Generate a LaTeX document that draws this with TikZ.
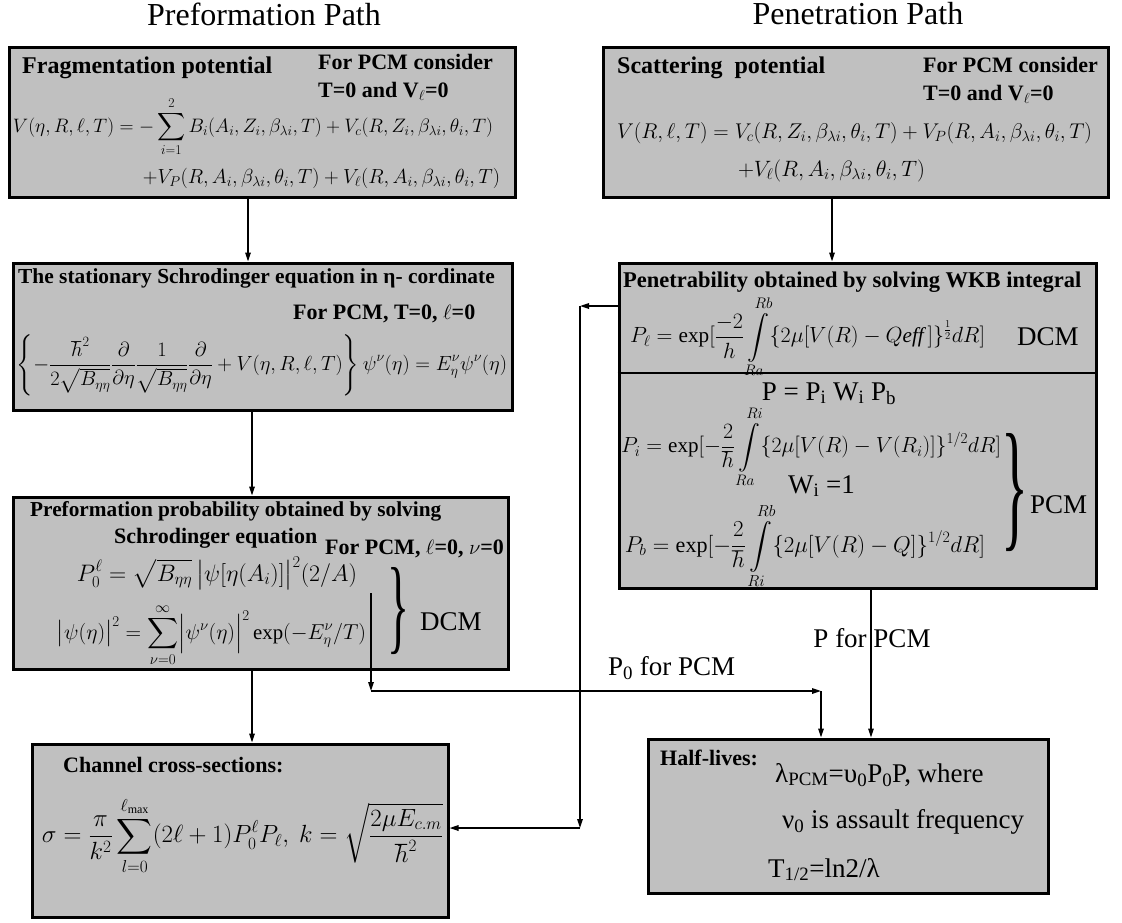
\documentclass[tikz,border=0pt]{standalone}
\usepackage{amsmath}
\usepackage{fontspec}
\setmainfont{Liberation Serif}
\usepackage{graphicx}
\usetikzlibrary{arrows.meta}
\definecolor{boxgray}{RGB}{192,192,192}
\newcommand{\fw}[2]{\resizebox{#1}{!}{$\displaystyle #2$}}
\begin{document}
\begin{tikzpicture}[x=1pt,y=-1pt,
  box/.style={draw=black, line width=3pt, fill=boxgray, inner sep=0pt},
  conn/.style={line width=1.6pt, -{Triangle[length=9pt,width=5.5pt]}},
  hdr/.style={font=\fontsize{22}{26}\selectfont\bfseries, inner sep=0pt, anchor=base west},
  ttl/.style={font=\fontsize{32}{38}\selectfont, inner sep=0pt, anchor=base},
  txt/.style={font=\fontsize{27}{32}\selectfont, inner sep=0pt, anchor=base west},
  eq/.style={font=\fontsize{24}{28}\selectfont, inner sep=0pt, anchor=center},
]
\useasboundingbox (0,0) rectangle (1122,922);

% boxes
\node[box, minimum width=506pt, minimum height=150pt] (b1) at (262,122) {};
\node[box, minimum width=505pt, minimum height=150pt] (b2) at (855.5,122) {};
\node[box, minimum width=499pt, minimum height=147pt] (b3) at (262.5,336.5) {};
\node[box, minimum width=477pt, minimum height=325pt] (b4) at (857.5,425.5) {};
\node[box, minimum width=495pt, minimum height=172pt] (b5) at (260.5,583) {};
\node[box, minimum width=416pt, minimum height=173pt] (b6) at (240,830.5) {};
\node[box, minimum width=400pt, minimum height=154pt] (b7) at (848,816) {};
\coordinate (div) at (0,373);
\draw[line width=2.5pt] (b4.west |- div) -- (b4.east |- div);

% titles
\node[ttl] (t1) at (264,25) {Preformation Path};
\node[ttl] (t2) at (858,24) {Penetration Path};

% box 1
\node[hdr, font=\fontsize{24}{28}\selectfont\bfseries] (h1) at (22,73) {Fragmentation potential};
\node[hdr] (h1b) at (318,69) {For PCM consider};
\node[hdr] (h1c) at (318,97) {T=0 and V\textsubscript{$\ell$}=0};
\node[eq] (f1a) at (253,127) {\fw{480pt}{V(\eta,R,\ell,T)=-\sum_{i=1}^{2}B_i(A_i,Z_i,\beta_{\lambda i},T)+V_c(R,Z_i,\beta_{\lambda i},\theta_i,T)}};
\node[eq] (f1b) at (321.5,178) {\fw{357pt}{+V_P(R,A_i,\beta_{\lambda i},\theta_i,T)+V_\ell(R,A_i,\beta_{\lambda i},\theta_i,T)}};

% box 2
\node[hdr, font=\fontsize{24}{28}\selectfont\bfseries] (h2) at (617,73) {Scattering\ \ potential};
\node[hdr] (h2b) at (923,72) {For PCM consider};
\node[hdr] (h2c) at (923,100) {T=0 and V\textsubscript{$\ell$}=0};
\node[eq] (f2a) at (854.5,133) {\fw{475pt}{V(R,\ell,T)=V_c(R,Z_i,\beta_{\lambda i},\theta_i,T)+V_P(R,A_i,\beta_{\lambda i},\theta_i,T)}};
\node[eq] (f2b) at (831.5,171) {\fw{187pt}{+V_\ell(R,A_i,\beta_{\lambda i},\theta_i,T)}};

% box 3
\node[hdr, font=\fontsize{21.4}{26}\selectfont\bfseries] (h3) at (18,283) {The stationary Schrodinger equation in η- cordinate};
\node[hdr] (h3b) at (293,319) {For PCM, T=0, $\ell$=0};
\node[eq] (f3) at (262,365) {\fw{490pt}{\left\{-\frac{\hbar^2}{2\sqrt{B_{\eta\eta}}}\frac{\partial}{\partial\eta}\frac{1}{\sqrt{B_{\eta\eta}}}\frac{\partial}{\partial\eta}+V(\eta,R,\ell,T)\right\}\psi^{\nu}(\eta)=E^{\nu}_{\eta}\psi^{\nu}(\eta)}};

% box 4
\node[hdr, font=\fontsize{22.5}{26}\selectfont\bfseries] (h4) at (623,287) {Penetrability obtained by solving WKB integral};
\node[eq] (f4a) at (807.5,337) {\fw{355pt}{P_\ell=\exp[\frac{-2}{h}\int\limits_{Ra}^{Rb}\{2\mu[V(R)-Q\mathit{eff}\,]\}^{\frac12}dR]}};
\node[txt] (d4) at (1017,345) {DCM};
\node[txt, anchor=base] (p4) at (829,400) {P = P\textsubscript{i} W\textsubscript{i} P\textsubscript{b}};
\node[eq] (f4b) at (811,447) {\fw{380pt}{P_i=\exp[-\frac{2}{\hbar}\int\limits_{Ra}^{Ri}\{2\mu[V(R)-V(R_i)]\}^{1/2}dR]}};
\node[txt] (w4) at (788,493) {W\textsubscript{i} =1};
\node[eq] (f4c) at (805,546) {\fw{360pt}{P_b=\exp[-\frac{2}{\hbar}\int\limits_{Ri}^{Rb}\{2\mu[V(R)-Q]\}^{1/2}dR]}};
\node[eq] (br4) at (1014.5,492.5) {\resizebox{27pt}{99pt}{\}}};
\node[txt] (pc4) at (1030,513) {PCM};

% box 5
\node[hdr, font=\fontsize{21.3}{26}\selectfont\bfseries] (h5) at (30,516) {Preformation probability obtained by solving};
\node[hdr] (h5b) at (114,543) {Schrodinger equation};
\node[hdr] (h5c) at (325,554) {For PCM, $\ell$=0, $\nu$=0};
\node[eq] (f5a) at (217,573) {\fw{280pt}{P_0^{\ell}=\sqrt{B_{\eta\eta}}\,\bigl|\psi[\eta(A_i)]\bigr|^2(2/A)}};
\node[eq] (f5b) at (211.5,635) {\fw{309pt}{\bigl|\psi(\eta)\bigr|^2=\sum_{\nu=0}^{\infty}\Bigl|\psi^{\nu}(\eta)\Bigr|^2\exp(-E^{\nu}_{\eta}/T)}};
\node[eq] (br5) at (398,611.5) {\resizebox{22pt}{73pt}{\}}};
\node[txt] (d5) at (420,630) {DCM};

% box 6
\node[hdr] (h6) at (63,772) {Channel cross-sections:};
\node[eq] (f6) at (242.5,836) {\fw{401pt}{\sigma=\frac{\pi}{k^2}\sum_{l=0}^{\ell_{\max}}(2\ell+1)P_0^{\ell}P_{\ell},\ k=\sqrt{\frac{2\mu E_{c.m}}{\hbar^2}}}};

% box 7
\node[hdr] (h7) at (660,765) {Half-lives:};
\node[txt] (l7a) at (775,782) {λ\textsubscript{PCM}=υ\textsubscript{0}P\textsubscript{0}P, where};
\node[txt] (l7b) at (782,828) {ν\textsubscript{0} is assault frequency};
\node[txt] (l7c) at (768,877) {T\textsubscript{1/2}=ln2/λ};

% connectors
\coordinate (x1) at (248,0);
\coordinate (x2) at (832,0);
\coordinate (x3) at (252,0);
\draw[conn] (b1.south -| x1) -- (b3.north -| x1);
\draw[conn] (b2.south -| x2) -- (b4.north -| x2);
\draw[conn] (b3.south -| x3) -- (b5.north -| x3);
\draw[conn] (b5.south -| x3) -- (b6.north -| x3);

\coordinate (p0s) at (371,593);
\coordinate (p0c) at (371,691);
\coordinate (p0e) at (821,691);
\draw[conn] (p0s) -- (p0c);
\draw[conn] (p0c) -- (p0e);
\draw[conn] (p0e) -- (b7.north -| p0e);
\node[txt] (lp0) at (608,675) {P\textsubscript{0} for PCM};

\coordinate (xp) at (871,0);
\node[txt, anchor=base] (lp) at (872,647) {P for PCM};
\draw[conn, line width=1.3pt] (b4.south -| xp) -- (b7.north -| xp);

\coordinate (l1) at (580,306);
\coordinate (l2) at (580,828);
\draw[conn] (b4.west |- l1) -- (l1);
\draw[conn] (l1) -- (l2);
\draw[conn] (l2) -- (b6.east |- l2);
\end{tikzpicture}
\end{document}
